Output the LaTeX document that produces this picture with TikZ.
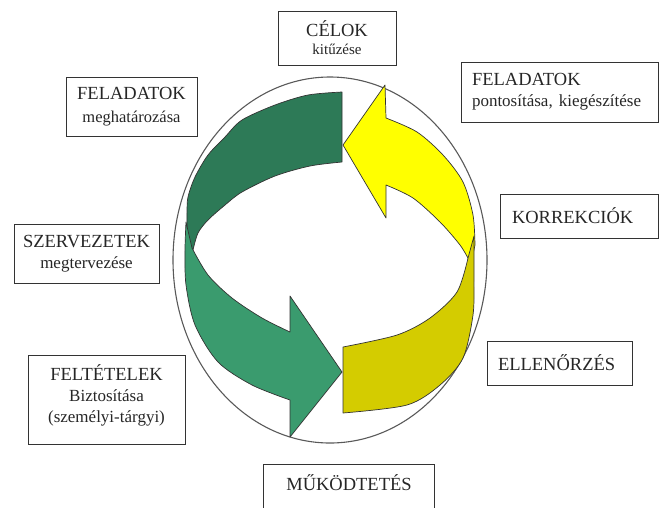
\documentclass[tikz,border=0pt]{standalone}
\usepackage{fontspec}
\setmainfont{Liberation Serif}
\usepackage{tikz}
\usetikzlibrary{positioning}

\definecolor{darkribbon}{HTML}{2D7A57}
\definecolor{midribbon}{HTML}{3A9B6E}
\definecolor{yellowribbon}{HTML}{FFFF00}
\definecolor{oliveribbon}{HTML}{D4CC00}
\definecolor{boxline}{HTML}{333333}

\newcommand{\headfont}{\fontsize{18.5}{21}\selectfont}
\newcommand{\subfont}{\fontsize{17}{21}\selectfont}
\frenchspacing

\tikzset{
	label box/.style={draw=boxline, line width=0.9pt, inner sep=0pt, align=center, font=\headfont, text=black!85},
	left box/.style={label box, align=left},
	ribbon/.style={draw=black!80, line width=0.7pt, line join=round},
	ring/.style={draw=black!65, line width=1.1pt}
}

\begin{document}
\begin{tikzpicture}[x=1pt, y=-1pt]
		\useasboundingbox (0,0) rectangle (663,507);
		
		\draw[ring] (330,260) ellipse [x radius=157pt, y radius=183pt];
		
		% upper left ribbon
		\filldraw[ribbon, fill=darkribbon] (342,92)
		-- plot[smooth] coordinates {(342,92) (308,95) (275,105) (242,120) (225,137) (208,155) (195,177) (188,197) (187,213) (187,240)}
		-- (190,260)
		-- plot[smooth] coordinates {(193,250) (198,233) (208,220) (225,205) (242,192) (275,176) (310,166) (342,162)}
		-- cycle;
		
		% lower left ribbon with head
		\filldraw[ribbon, fill=midribbon] (186,222) -- (192,248)
		-- plot[smooth] coordinates {(192,248) (208,275) (232,298) (262,318) (290,332)}
		-- (290,296) -- (342,372) -- (290,437) -- (290,400)
		-- plot[smooth] coordinates {(290,400) (252,385) (218,362) (195,325) (186,285) (185,250) (186,222)}
		-- cycle;
		
		% upper right ribbon with head
		\filldraw[ribbon, fill=yellowribbon] (343,145) -- (385,85) -- (386,118)
		-- plot[smooth] coordinates {(386,118) (417,132) (443,155) (463,182) (473,215) (475,245)}
		-- (471,264)
		-- plot[smooth] coordinates {(469,260) (460,245) (440,222) (413,198) (386,185)}
		-- (386,218) -- cycle;
		
		% lower right ribbon
		\filldraw[ribbon, fill=oliveribbon] (474,236) -- (468,258)
		-- plot[smooth] coordinates {(468,258) (457,292) (430,318) (397,335) (343,347)}
		-- (343,413)
		-- plot[smooth] coordinates {(343,413) (407,405) (440,385) (463,358) (473,315) (474,280) (474,236)}
		-- cycle;
		
		\node[label box, minimum width=118pt, minimum height=54pt] (celok) at (337,38)
		{C\'ELOK\\[-3pt]{\fontsize{15}{18}\selectfont kit\H{u}z\'ese}};
		\node[label box, minimum width=131pt, minimum height=59pt] (meghat) at (131.5,106.5)
		{FELADATOK\\[2pt]{\fontsize{16.5}{19}\selectfont meghat\'aroz\'asa}};
		\node[label box, minimum width=145pt, minimum height=59pt] (szervez) at (86.5,253.5)
		{SZERVEZETEK\\{\subfont megtervez\'ese}};
		\node[label box, minimum width=157pt, minimum height=89pt, text depth=12pt] (feltetel) at (106.5,399.5)
		{FELT\'ETELEK\\{\subfont Biztos\'it\'asa}\\{\subfont (szem\'elyi-t\'argyi)}};
		\node[left box, minimum width=197pt, minimum height=60pt, inner xsep=11pt, text width=175pt] (pontos) at (559.5,92)
		{FELADATOK\\{\subfont pontos\'it\'asa, kieg\'esz\'it\'ese}};
		\node[left box, minimum width=158pt, minimum height=44pt, inner xsep=12pt, text width=134pt] (korrekc) at (579,216)
		{KORREKCI\'OK};
		\node[left box, minimum width=145pt, minimum height=44pt, inner xsep=11pt, text width=123pt] (ellen) at (559.5,363)
		{ELLEN\H{O}RZ\'ES};
		\node[label box, draw=none, minimum width=170pt, minimum height=43pt, anchor=north] (mukod) at (349,464)
		{\raisebox{6pt}{M\H{U}K\"ODTET\'ES}};
		\draw[boxline, line width=0.9pt] (mukod.south west) |- (mukod.north east) -- (mukod.south east);
\end{tikzpicture}
\end{document}
